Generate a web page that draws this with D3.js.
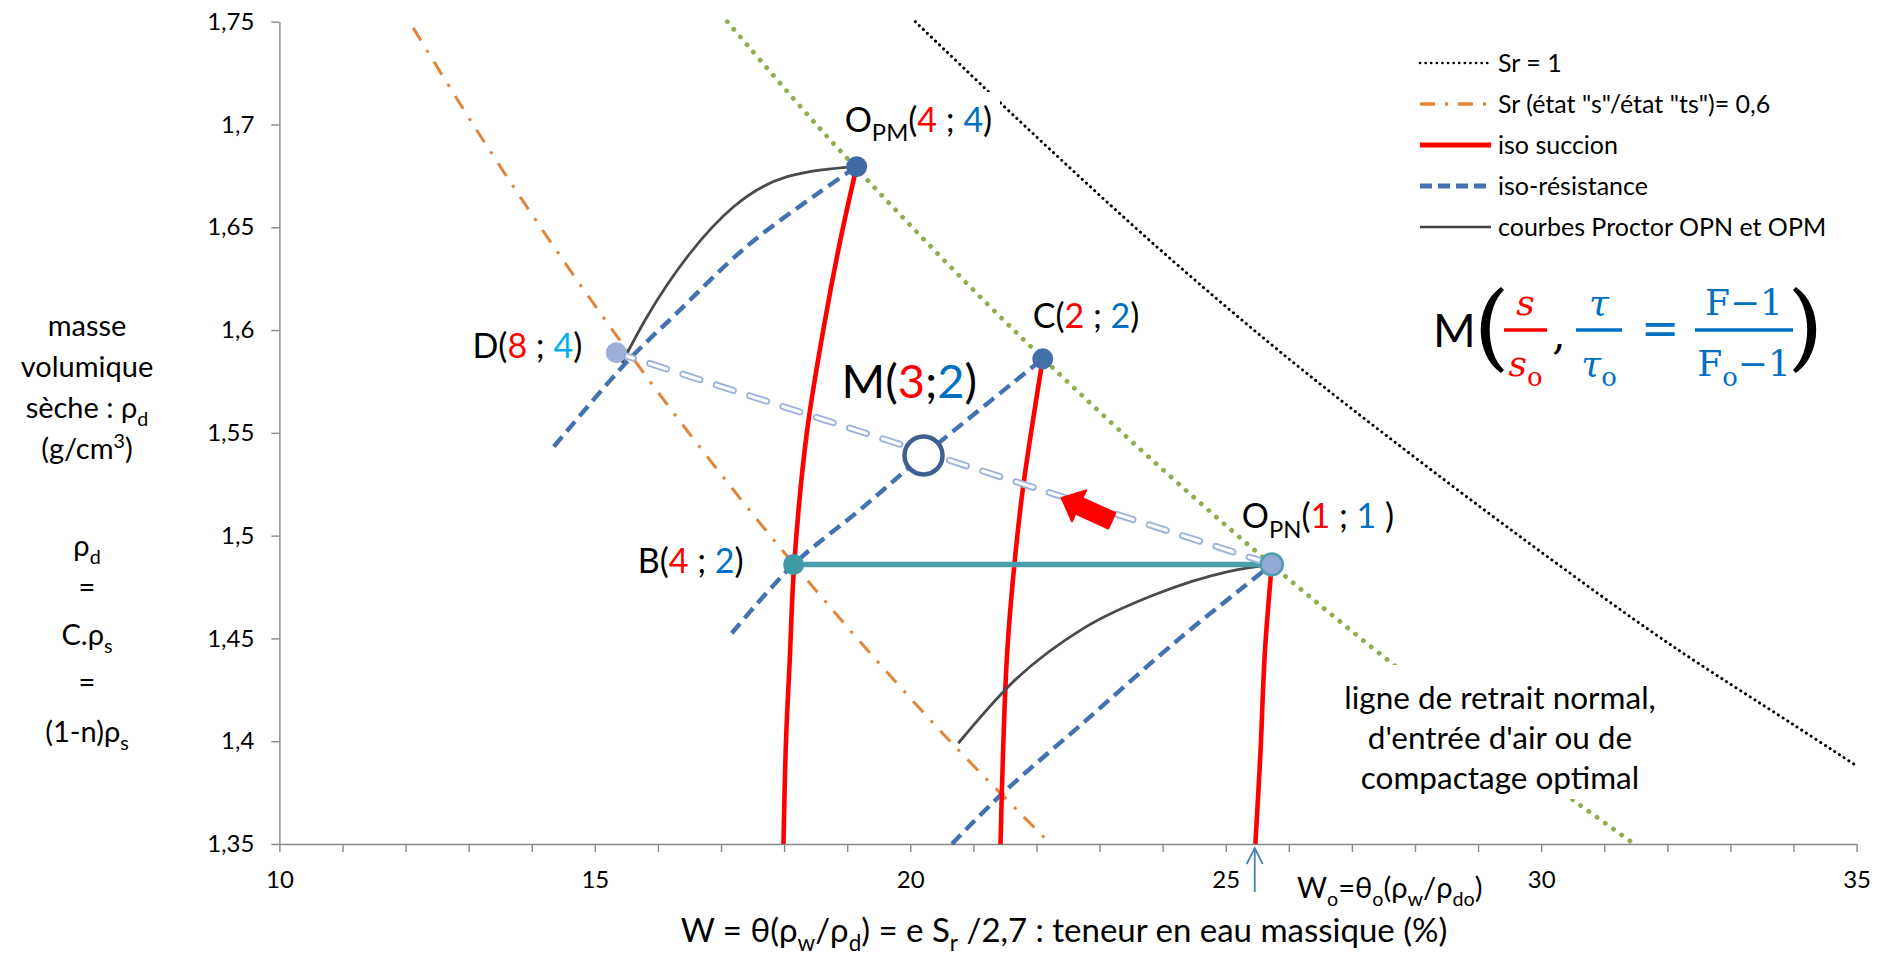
<!DOCTYPE html>
<html>
<head>
<meta charset="utf-8">
<script src="https://cdn.jsdelivr.net/npm/d3@7"></script>
<style>
body { margin: 0; background: #fff; }
text { font-family: Lato, "Open Sans", sans-serif; }
</style>
</head>
<body>
<script>
// axes
var yTicks = [1.35, 1.4, 1.45, 1.5, 1.55, 1.6, 1.65, 1.7, 1.75];
var yTickLabels = ["1,35", "1,4", "1,45", "1,5", "1,55", "1,6", "1,65", "1,7", "1,75"];
var xMajor = [10, 15, 20, 25, 30, 35];
var xTickLabels = ["10", "15", "20", "25", "30", "35"];

// saturation lines (w %, rho_d)
var sr1W = [20.08, 22, 24, 26, 28, 30, 32, 34, 35];
var sr1Rho = [1.75, 1.694, 1.638, 1.586, 1.538, 1.492, 1.448, 1.408, 1.388];
var sr06W = [12.12, 13.07, 14.14, 15.28, 16.49, 17.78, 19.16, 20.63, 22.13];
var sr06Rho = [1.747, 1.70, 1.65, 1.60, 1.55, 1.50, 1.45, 1.40, 1.353];
var optW = [17.10, 18.51, 20.03, 21.64, 23.36, 25.19, 27.14, 29.23, 31.43];
var optRho = [1.75, 1.70, 1.65, 1.60, 1.55, 1.50, 1.45, 1.40, 1.351];

// iso succion
var suc4W = [17.99, 18.03, 18.09, 18.16, 18.36, 18.65, 18.90, 19.15];
var suc4Rho = [1.35, 1.40, 1.44, 1.486, 1.55, 1.605, 1.645, 1.6795];
var suc2W = [21.43, 21.53, 21.65, 21.79, 22.10];
var suc2Rho = [1.35, 1.44, 1.486, 1.524, 1.586];
var suc1W = [25.47, 25.55, 25.62, 25.73];
var suc1Rho = [1.35, 1.394, 1.443, 1.486];

// iso resistance
var res4W = [14.35, 15.52, 16.26, 17.40, 18.55, 19.15];
var res4Rho = [1.5433, 1.5849, 1.6071, 1.6405, 1.6668, 1.6795];
var res2W = [17.17, 18.15, 19.2, 20.21, 22.10];
var res2Rho = [1.4525, 1.486, 1.5125, 1.539, 1.586];
var res1W = [20.66, 21.44, 22.78, 24.27, 25.2, 25.73];
var res1Rho = [1.35, 1.374, 1.410, 1.450, 1.473, 1.486];

// courbes Proctor
var opmW = [15.43, 15.8, 16.5, 17.2, 18.05, 19.15];
var opmRho = [1.584, 1.605, 1.637, 1.66, 1.6746, 1.6795];
var opnW = [20.76, 21.60, 22.75, 23.89, 25.04, 25.73];
var opnRho = [1.399, 1.428, 1.455, 1.4715, 1.4825, 1.486];

// points
var pointNames = ["OPM", "C", "D", "B", "OPN"];
var pointW = [19.15, 22.10, 15.34, 18.15, 25.73];
var pointRho = [1.6795, 1.586, 1.589, 1.486, 1.486];
var pointS = ["4", "2", "8", "4", "1"];
var pointT = ["4", "2", "4", "2", "1"];
var mW = 20.21, mRho = 1.539, mS = "3", mT = "2";
var arrowW = 22.40, arrowRho = 1.5183;
var wo = 25.46;

var legendLabels = ["Sr = 1", "Sr (état \"s\"/état \"ts\")= 0,6", "iso succion", "iso-résistance", "courbes Proctor OPN et OPM"];
var noteLines = ["ligne de retrait normal,", "d'entrée d'air ou de", "compactage optimal"];

var RED = "#ff0000", BLUE = "#0070c0", CYAN = "#00b0f0";

var svg = d3.select("body").append("svg").attr("width", 1888).attr("height", 955);
svg.append("rect").attr("width", 1888).attr("height", 955).attr("fill", "#fff");

var x = d3.scaleLinear().domain([10, 35]).range([279.4, 1856.6]);
var y = d3.scaleLinear().domain([1.35, 1.75]).range([844, 21.7]);

function zip(a, b) { return a.map(function(v, i) { return [v, b[i]]; }); }
var line = d3.line().x(function(d) { return x(d[0]); }).y(function(d) { return y(d[1]); })
    .curve(d3.curveCatmullRom.alpha(0.5));
var smooth = d3.line().x(function(d) { return x(d[0]); }).y(function(d) { return y(d[1]); })
    .curve(d3.curveMonotoneX);

// axes
var gy = svg.append("g").attr("transform", "translate(" + x(10) + ",0)")
    .call(d3.axisLeft(y).tickValues(yTicks).tickFormat(function(d, i) { return yTickLabels[i]; })
        .tickSize(8).tickSizeOuter(0).tickPadding(17));
var gx = svg.append("g").attr("transform", "translate(0," + y(1.35) + ")")
    .call(d3.axisBottom(x).tickValues(d3.range(10, 36))
        .tickFormat(function(d) { var i = xMajor.indexOf(d); return i < 0 ? "" : xTickLabels[i]; })
        .tickSize(8).tickSizeOuter(0).tickPadding(19));
[gx, gy].forEach(function(g) {
    g.attr("font-family", "Lato").attr("font-size", 24);
    g.select(".domain").attr("stroke", "#888").attr("stroke-width", 1.4);
    g.selectAll(".tick line").attr("stroke", "#888").attr("stroke-width", 1.4);
    g.selectAll(".tick text").attr("fill", "#000");
});

function path(data, color, width, dash, cap, gen) {
    return svg.append("path").attr("d", (gen || line)(data)).attr("fill", "none")
        .attr("stroke", color).attr("stroke-width", width)
        .attr("stroke-dasharray", dash || null).attr("stroke-linecap", cap || "butt");
}

// saturation lines
path(zip(sr1W, sr1Rho), "#000", 3, "0.1 5.5", "round");
path(zip(sr06W, sr06Rho), "#e0853a", 3, "15 11 3 11");
path(zip(optW, optRho), "#8fae4f", 4.8, "0.1 10", "round");

// white boxes behind the O_PM label and the note (they cut the dotted lines)
svg.append("rect").attr("x", 840).attr("y", 92).attr("width", 160).attr("height", 52).attr("fill", "#fff");
svg.append("rect").attr("x", 1335).attr("y", 665).attr("width", 335).attr("height", 134).attr("fill", "#fff");

// iso resistance
[[res4W, res4Rho], [res2W, res2Rho], [res1W, res1Rho]].forEach(function(s) {
    path(zip(s[0], s[1]), "#4472b0", 4.4, "13 7");
});
// iso succion
[[suc4W, suc4Rho], [suc2W, suc2Rho], [suc1W, suc1Rho]].forEach(function(s) {
    path(zip(s[0], s[1]), RED, 4.6);
});
// Proctor
path(zip(opmW, opmRho), "#4a4a4a", 2.8, null, "butt", smooth);
path(zip(opnW, opnRho), "#4a4a4a", 2.8, null, "butt", smooth);

// B -> OPN horizontal
svg.append("line").attr("x1", x(pointW[3])).attr("x2", x(pointW[4]))
    .attr("y1", y(pointRho[3])).attr("y2", y(pointRho[4]))
    .attr("stroke", "#4b9fad").attr("stroke-width", 5.5);

// D -> OPN hollow dashed
var dLine = [[pointW[2], pointRho[2]], [pointW[4], pointRho[4]]];
path(dLine, "#9db2dc", 7, "18 17", "round");
path(dLine, "#fff", 3.2, "18 17", "round");

// red block arrow
svg.append("path")
    .attr("d", "M0,0 L19,-17 L19,-8.5 L55,-8.5 L55,8.5 L19,8.5 L19,17 Z")
    .attr("fill", RED).attr("stroke", RED).attr("stroke-width", 2).attr("stroke-linejoin", "round")
    .attr("transform", "translate(" + x(arrowW) + "," + y(arrowRho) + ") rotate(24.4)");

// points
var pointFill = ["#3f6aa3", "#4470a8", "#9daedb", "#3f9aa8", "#93a9d4"];
var pointStroke = ["none", "none", "none", "none", "#4b9fad"];
pointNames.forEach(function(n, i) {
    svg.append("circle").attr("cx", x(pointW[i])).attr("cy", y(pointRho[i])).attr("r", i == 4 ? 11 : 10.5)
        .attr("fill", pointFill[i]).attr("stroke", pointStroke[i]).attr("stroke-width", 2.5);
});
svg.append("circle").attr("cx", x(mW)).attr("cy", y(mRho)).attr("r", 19)
    .attr("fill", "#fff").attr("stroke", "#3d6090").attr("stroke-width", 4.5);

// rich text helper
function rich(px, py, parts, size, anchor, family) {
    var t = svg.append("text").attr("x", px).attr("y", py).attr("font-size", size)
        .attr("text-anchor", anchor || "start");
    if (family) t.style("font-family", family);
    var shift = 0;
    parts.forEach(function(p) {
        var sp = t.append("tspan").text(p.t).attr("fill", p.c || "#000");
        var want = p.sub ? size * 0.27 : p.sup ? -size * 0.38 : 0;
        if (want != shift) { sp.attr("dy", want - shift); shift = want; }
        if (p.sub || p.sup) sp.attr("font-size", size * (p.k || 0.68));
        if (p.i) sp.attr("font-style", "italic");
    });
    return t;
}

// point labels
var labelOff = { OPM: [-12, -35, "start"], C: [-10, -31, "start"], D: [-34, 5, "end"], B: [-50, 9, "end"], OPN: [-30, -36, "start"] };
pointNames.forEach(function(n, i) {
    var o = labelOff[n];
    var parts = [{ t: n[0] }];
    if (n.length > 1) parts.push({ t: n.slice(1), sub: 1, k: 0.7 });
    parts.push({ t: "(" }, { t: pointS[i], c: RED }, { t: " ; " }, { t: pointT[i], c: n == "D" ? CYAN : BLUE }, { t: n == "OPN" ? " )" : ")" });
    rich(x(pointW[i]) + o[0], y(pointRho[i]) + o[1], parts, 34, o[2]);
});
rich(x(mW) - 82, y(mRho) - 57, [{ t: "M(" }, { t: mS, c: RED }, { t: ";" }, { t: mT, c: BLUE }, { t: ")" }], 47);

// Wo arrow
svg.append("line").attr("x1", x(wo)).attr("x2", x(wo)).attr("y1", 892).attr("y2", 848)
    .attr("stroke", "#4a7ebb").attr("stroke-width", 1.8);
svg.append("path").attr("d", "M" + (x(wo) - 8) + ",864 L" + x(wo) + ",848 L" + (x(wo) + 8) + ",864")
    .attr("fill", "none").attr("stroke", "#4a7ebb").attr("stroke-width", 1.8);
rich(1297, 898, [{ t: "W" }, { t: "o", sub: 1 }, { t: "=θ" }, { t: "o", sub: 1 }, { t: "(ρ" }, { t: "w", sub: 1 }, { t: "/ρ" }, { t: "do", sub: 1 }, { t: ")" }], 29);

// axis titles
rich(1064, 942, [{ t: "W = θ(ρ" }, { t: "w", sub: 1 }, { t: "/ρ" }, { t: "d", sub: 1 }, { t: ") = e S" }, { t: "r", sub: 1 }, { t: " /2,7  : teneur en eau massique (%)" }], 33, "middle");

var yTitle = [
    [[{ t: "masse" }], 336],
    [[{ t: "volumique" }], 377],
    [[{ t: "sèche : ρ" }, { t: "d", sub: 1 }], 418],
    [[{ t: "(g/cm" }, { t: "3", sup: 1 }, { t: ")" }], 459],
    [[{ t: "ρ" }, { t: "d", sub: 1 }], 556],
    [[{ t: "=" }], 597],
    [[{ t: "C.ρ" }, { t: "s", sub: 1 }], 645],
    [[{ t: "=" }], 692],
    [[{ t: "(1-n)ρ" }, { t: "s", sub: 1 }], 742]
];
yTitle.forEach(function(r) { rich(87, r[1], r[0], 29, "middle"); });

// note
noteLines.forEach(function(s, i) {
    rich(1500, 709 + i * 40, [{ t: s }], 31.5, "middle");
});

// legend
var lg = svg.append("g");
var legendStyle = [
    ["#000", 2.6, "0.1 5.5", "round"],
    ["#e0853a", 3.5, "15 10 3 10", "butt"],
    [RED, 4.8, null, "butt"],
    ["#4472b0", 4.8, "12 6", "butt"],
    ["#404040", 2.6, null, "butt"]
];
legendLabels.forEach(function(l, i) {
    var yy = 63 + i * 41;
    var s = legendStyle[i];
    lg.append("line").attr("x1", 1420).attr("x2", 1491).attr("y1", yy).attr("y2", yy)
        .attr("stroke", s[0]).attr("stroke-width", s[1]).attr("stroke-dasharray", s[2]).attr("stroke-linecap", s[3]);
    lg.append("text").attr("x", 1498).attr("y", yy + 9).attr("font-size", 25).text(l);
});

// formula M( s/so , tau/tauo = (F-1)/(Fo-1) )
var MF = "DejaVu Serif";
rich(1433, 347, [{ t: "M" }], 46);
svg.append("path").attr("d", "M1501,287 C1474,306 1474,354 1501,373 L1504,370 C1485,352 1485,308 1504,290 Z").attr("fill", "#000");
svg.append("path").attr("d", "M1796,287 C1823,306 1823,354 1796,373 L1793,370 C1812,352 1812,308 1793,290 Z").attr("fill", "#000");
function frac(cx, x0, x1, num, den, color) {
    svg.append("line").attr("x1", x0).attr("x2", x1).attr("y1", 330).attr("y2", 330)
        .attr("stroke", color).attr("stroke-width", 3.4);
    rich(cx, 315, num, 36, "middle", MF);
    rich(cx, 376, den, 36, "middle", MF);
}
frac(1525.5, 1504, 1547, [{ t: "s", c: RED, i: 1 }], [{ t: "s", c: RED, i: 1 }, { t: "o", c: RED, sub: 1, k: 0.72 }], RED);
rich(1559, 349, [{ t: "," }], 42, "middle", MF);
frac(1599, 1576, 1622, [{ t: "τ", c: BLUE, i: 1 }], [{ t: "τ", c: BLUE, i: 1 }, { t: "o", c: BLUE, sub: 1, k: 0.72 }], BLUE);
rich(1660, 344, [{ t: "=", c: BLUE }], 46, "middle", MF);
frac(1744, 1695, 1793, [{ t: "F−1", c: BLUE }], [{ t: "F", c: BLUE }, { t: "o", c: BLUE, sub: 1, k: 0.72 }, { t: "−1", c: BLUE }], BLUE);
</script>
</body>
</html>
